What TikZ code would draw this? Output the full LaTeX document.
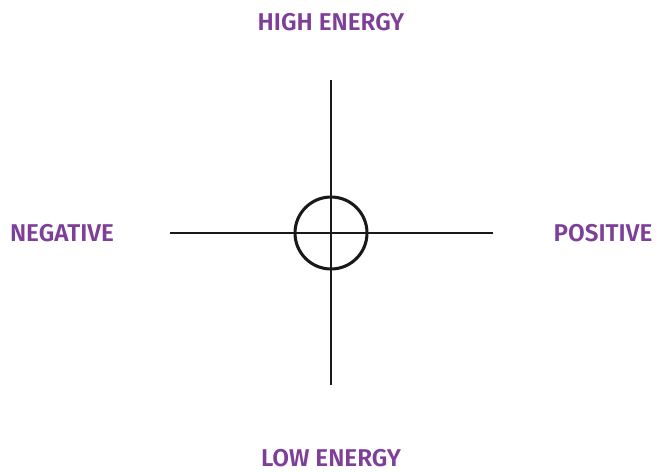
\documentclass[tikz,border=0pt]{standalone}
\usepackage{fontspec}
\setmainfont{Fira Sans}[UprightFont=* SemiBold]
\usepackage{xcolor}
\definecolor{axispurple}{HTML}{7E3F98}
\usetikzlibrary{positioning}

\begin{document}
\begin{tikzpicture}[
  x=0.75pt,y=-0.75pt,
  pole/.style={text=axispurple,font=\fontsize{18.2}{20}\selectfont,inner sep=0pt},
  axisline/.style={line width=1.6pt,black!90},
  ring/.style={circle,draw=black!90,line width=2.3pt,minimum size=54pt,inner sep=0pt}
]
\useasboundingbox (0,0) rectangle (666,471);
\node[ring] (centre) at (331,233) {};
\coordinate (top) at (331,80);
\coordinate (bottom) at (331,385);
\coordinate (left) at (170,233);
\coordinate (right) at (493,233);
\draw[axisline] (top) -- (bottom);
\draw[axisline] (left) -- (right);
\node[pole] (high) at (331,22) {HIGH ENERGY};
\node[pole] (low) at (331,458) {LOW ENERGY};
\node[pole] (neg) at (62,233) {NEGATIVE};
\node[pole] (pos) at (603,233) {POSITIVE};
\end{tikzpicture}
\end{document}
